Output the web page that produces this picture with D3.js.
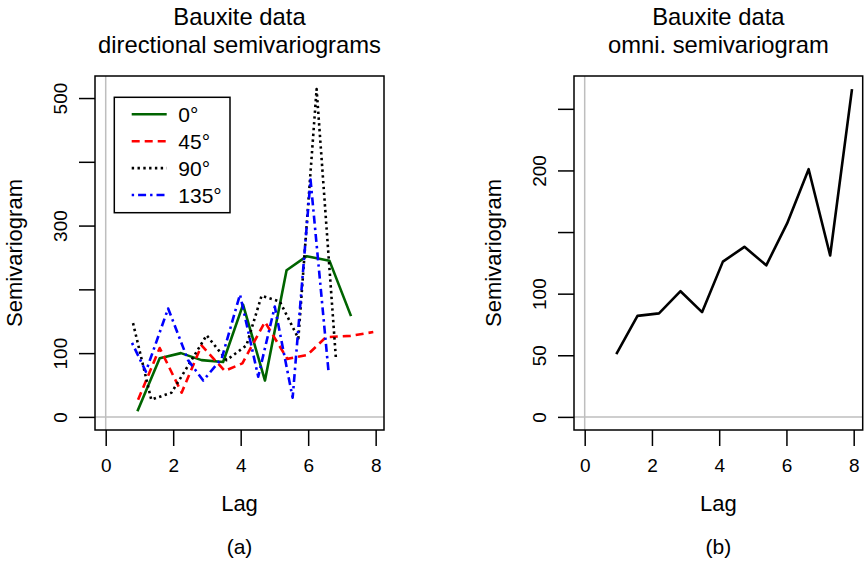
<!DOCTYPE html>
<html>
<head>
<meta charset="utf-8">
<script src="https://cdn.jsdelivr.net/npm/d3@7"></script>
<style>
  html, body { margin: 0; padding: 0; background: #fff; }
  svg text { font-family: "Liberation Sans", Arial, Helvetica, sans-serif; fill: #000; }
</style>
</head>
<body>
<svg id="chart" width="866" height="564"></svg>
<script>
// Directional semivariograms (lag, semivariogram) for the bauxite data
const lag0   = [0.94, 1.60, 2.23, 2.84, 3.48, 4.07, 4.72, 5.36, 5.96, 6.63, 7.27];
const sv0    = [9, 92, 100, 89, 86, 176, 57, 230, 252, 245, 158];

const lag45  = [0.96, 1.60, 2.25, 2.84, 3.53, 4.05, 4.72, 5.38, 5.97, 6.53, 7.25, 7.93];
const sv45   = [27, 108, 38, 112, 72, 84, 149, 91, 97, 125, 127, 133];

const lag90  = [0.81, 1.35, 1.95, 2.45, 2.99, 3.58, 4.17, 4.62, 5.16, 5.71, 6.25, 6.82];
const sv90   = [147, 27, 38, 81, 128, 89, 112, 190, 181, 123, 514, 93];

const lag135 = [0.78, 1.19, 1.85, 2.44, 2.89, 3.44, 3.98, 4.52, 5.01, 5.54, 6.07, 6.60];
const sv135  = [116, 71, 170, 89, 57, 92, 192, 63, 173, 30, 372, 73];

// Omnidirectional semivariogram
const lagOmni = [0.94, 1.57, 2.21, 2.85, 3.49, 4.11, 4.75, 5.40, 6.02, 6.66, 7.30, 7.95];
const svOmni  = [51, 82, 84, 102, 85, 126, 138, 123, 157, 201, 131, 266];

// Legend entries
const directions = ["0°", "45°", "90°", "135°"];

// Tick values and labels
const xTicks = [0, 2, 4, 6, 8];
const yTicksA = [0, 100, 200, 300, 400, 500];
const yLabelsA = ["0", "100", "", "300", "", "500"];
const yTicksB = [0, 50, 100, 150, 200, 250];
const yLabelsB = ["0", "50", "100", "", "200", ""];

const svg = d3.select("#chart");

const seriesStyle = [
  { color: "#006400", dash: null },
  { color: "#ff0000", dash: "8,5" },
  { color: "#000000", dash: "2.4,3.4" },
  { color: "#0000ff", dash: "2.4,4,8,4" }
];

// R-style range expansion (4% each side) around [0, max]
function padded(max) { return [-0.04 * max, 1.04 * max]; }

function drawPanel(opts) {
  const { left, right, top, bottom, xMax, yMax, yTicks, yLabels, title, caption } = opts;
  const x = d3.scaleLinear().domain(padded(xMax)).range([left, right]);
  const y = d3.scaleLinear().domain(padded(yMax)).range([bottom, top]);
  const g = svg.append("g");

  // reference lines at zero
  g.append("line").attr("x1", x(0)).attr("x2", x(0)).attr("y1", top).attr("y2", bottom)
    .attr("stroke", "#bebebe").attr("stroke-width", 1.5);
  g.append("line").attr("x1", left).attr("x2", right).attr("y1", y(0)).attr("y2", y(0))
    .attr("stroke", "#bebebe").attr("stroke-width", 1.5);

  // x axis
  const xa = g.append("g").attr("transform", `translate(0,${bottom})`)
    .call(d3.axisBottom(x).tickValues(xTicks).tickSize(16).tickSizeOuter(0).tickFormat(d3.format("d")));
  xa.select(".domain").remove();
  xa.selectAll(".tick line").attr("stroke", "#000").attr("stroke-width", 1.5);
  xa.selectAll(".tick text").attr("y", 41.7).attr("dy", null)
    .attr("font-size", 19).attr("font-family", null).attr("fill", "#000");

  // y axis (labels parallel to the axis)
  const ya = g.append("g").attr("transform", `translate(${left},0)`)
    .call(d3.axisLeft(y).tickValues(yTicks).tickSize(16).tickSizeOuter(0)
      .tickFormat((d, i) => yLabels[i]));
  ya.select(".domain").remove();
  ya.selectAll(".tick line").attr("stroke", "#000").attr("stroke-width", 1.5);
  ya.selectAll(".tick text").attr("x", 0).attr("y", -28.5).attr("dy", null)
    .attr("transform", "rotate(-90)").attr("text-anchor", "middle")
    .attr("font-size", 19).attr("font-family", null).attr("fill", "#000");

  // plot frame
  g.append("rect").attr("x", left).attr("y", top).attr("width", right - left).attr("height", bottom - top)
    .attr("fill", "none").attr("stroke", "#000").attr("stroke-width", 1.5);

  // titles and labels
  const cx = (left + right) / 2;
  g.append("text").attr("x", cx).attr("y", 24.5).attr("text-anchor", "middle")
    .attr("font-size", 23.8).text(title[0]);
  g.append("text").attr("x", cx).attr("y", 53).attr("text-anchor", "middle")
    .attr("font-size", 23.8).text(title[1]);
  g.append("text").attr("x", cx).attr("y", 510.5).attr("text-anchor", "middle")
    .attr("font-size", 22).text("Lag");
  g.append("text").attr("transform", `translate(${left - 73.5},${(top + bottom) / 2}) rotate(-90)`)
    .attr("text-anchor", "middle").attr("font-size", 22).text("Semivariogram");
  g.append("text").attr("x", cx).attr("y", 553.5).attr("text-anchor", "middle")
    .attr("font-size", 21).text(caption);

  return { g, x, y };
}

// Panel (a): directional semivariograms
const pa = drawPanel({
  left: 95, right: 384, top: 76, bottom: 430,
  xMax: d3.max([lag0, lag45, lag90, lag135].flat()),
  yMax: d3.max([sv0, sv45, sv90, sv135].flat()),
  yTicks: yTicksA, yLabels: yLabelsA,
  title: ["Bauxite data", "directional semivariograms"], caption: "(a)"
});

const dirSeries = [[lag0, sv0], [lag45, sv45], [lag90, sv90], [lag135, sv135]];
const lineA = d3.line().x(d => pa.x(d[0])).y(d => pa.y(d[1]));
dirSeries.forEach(([lags, vals], i) => {
  const pts = lags.map((l, k) => [l, vals[k]]);
  pa.g.append("path").attr("d", lineA(pts)).attr("fill", "none")
    .attr("stroke", seriesStyle[i].color).attr("stroke-width", 2.6)
    .attr("stroke-dasharray", seriesStyle[i].dash)
    .attr("stroke-linejoin", "round");
});

// legend
const leg = pa.g.append("g");
leg.append("rect").attr("x", 114.3).attr("y", 97.3).attr("width", 115.7).attr("height", 115.4)
  .attr("fill", "#fff").attr("stroke", "#000").attr("stroke-width", 1.5);
directions.forEach((lab, i) => {
  const cy = 114.3 + i * 26.9;
  leg.append("line").attr("x1", 131.7).attr("x2", 166.7).attr("y1", cy).attr("y2", cy)
    .attr("stroke", seriesStyle[i].color).attr("stroke-width", 2.6)
    .attr("stroke-dasharray", seriesStyle[i].dash);
  leg.append("text").attr("x", 178.3).attr("y", cy + 7.5).attr("font-size", 21).text(lab);
});

// Panel (b): omnidirectional semivariogram
const pb = drawPanel({
  left: 574, right: 862.7, top: 76, bottom: 430,
  xMax: d3.max(lagOmni), yMax: d3.max(svOmni),
  yTicks: yTicksB, yLabels: yLabelsB,
  title: ["Bauxite data", "omni. semivariogram"], caption: "(b)"
});
const lineB = d3.line().x(d => pb.x(d[0])).y(d => pb.y(d[1]));
pb.g.append("path").attr("d", lineB(lagOmni.map((l, k) => [l, svOmni[k]])))
  .attr("fill", "none").attr("stroke", "#000").attr("stroke-width", 2.6)
  .attr("stroke-linejoin", "round");
</script>
</body>
</html>
